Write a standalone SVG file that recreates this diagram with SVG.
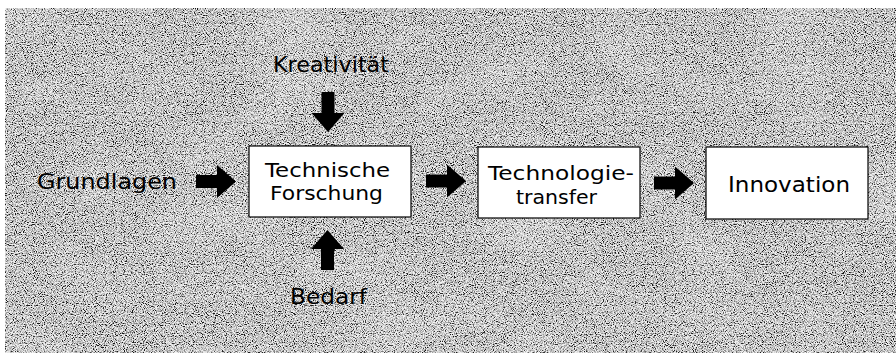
<svg xmlns="http://www.w3.org/2000/svg" xmlns:xlink="http://www.w3.org/1999/xlink" width="896" height="353" viewBox="0 0 896 353">
<style>
.lbl{font-family:"DejaVu Sans","Liberation Sans",sans-serif;font-size:21.5px;fill:#000;}
.in{font-family:"DejaVu Sans","Liberation Sans",sans-serif;font-size:20px;fill:#000;}
.box{fill:#fff;stroke:#000;stroke-width:1.2;}
.arr{fill:#000;}
</style>
<defs>
<filter id="grain" x="0" y="0" width="100%" height="100%" filterUnits="objectBoundingBox">
<feTurbulence type="fractalNoise" baseFrequency="0.9" numOctaves="2" seed="7" result="t"/>
<feColorMatrix in="t" type="matrix" values="3.2 0 0 0 -1.0  3.2 0 0 0 -1.0  3.2 0 0 0 -1.0  0 0 0 0 1"/>
</filter>
<filter id="mottle" x="0" y="0" width="100%" height="100%" filterUnits="objectBoundingBox">
<feTurbulence type="fractalNoise" baseFrequency="0.012 0.02" numOctaves="2" seed="4" result="c"/>
<feColorMatrix in="c" type="matrix" values="0 0 0 0 1  0 0 0 0 1  0 0 0 0 1  1.6 0 0 0 -0.7"/>
</filter>
<path id="arrow" d="M0,-6.5 H21 V-16.5 L40,0 L21,16.5 V6.5 H0 Z"/>
</defs>
<rect width="896" height="353" fill="#fff"/>
<g id="background">
<rect x="5" y="8" width="891" height="345" fill="#a4a4a4"/>
<rect x="5" y="8" width="891" height="345" filter="url(#grain)" opacity="0.85"/>
<rect x="5" y="8" width="891" height="345" filter="url(#mottle)" opacity="0.35"/>
</g>
<g id="connectors" class="arr">
<use xlink:href="#arrow" transform="translate(196,181.5)"/>
<use xlink:href="#arrow" transform="translate(426,181)"/>
<use xlink:href="#arrow" transform="translate(654,183)"/>
<use xlink:href="#arrow" transform="translate(328,92) rotate(90)"/>
<use xlink:href="#arrow" transform="translate(327.5,270) rotate(-90)"/>
</g>
<g id="grundlagen">
<text class="lbl" x="37" y="188.5" textLength="140" lengthAdjust="spacingAndGlyphs">Grundlagen</text>
</g>
<g id="kreativitaet">
<text class="lbl" x="273" y="72" textLength="116" lengthAdjust="spacingAndGlyphs">Kreativität</text>
</g>
<g id="bedarf">
<text class="lbl" x="290" y="304" textLength="77" lengthAdjust="spacingAndGlyphs">Bedarf</text>
</g>
<g id="technische-forschung">
<rect class="box" x="249" y="146" width="162" height="71"/>
<text class="in" x="265" y="176.5" textLength="125" lengthAdjust="spacingAndGlyphs">Technische</text>
<text class="in" x="270" y="200" textLength="113" lengthAdjust="spacingAndGlyphs">Forschung</text>
</g>
<g id="technologietransfer">
<rect class="box" x="478" y="147" width="162" height="71"/>
<text class="in" x="488" y="180" textLength="146" lengthAdjust="spacingAndGlyphs">Technologie-</text>
<text class="in" x="516" y="204" textLength="81" lengthAdjust="spacingAndGlyphs">transfer</text>
</g>
<g id="innovation">
<rect class="box" x="706" y="147" width="162" height="72"/>
<text class="lbl" x="728" y="191.5" textLength="122" lengthAdjust="spacingAndGlyphs">Innovation</text>
</g>
</svg>
